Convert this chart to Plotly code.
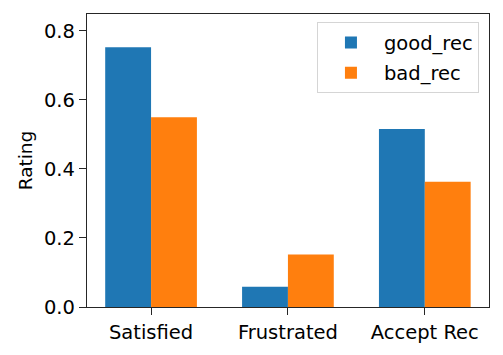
import plotly.graph_objects as go

# data
categories = ['Satisfied', 'Frustrated', 'Accept Rec']
good_rec = [0.753, 0.059, 0.516]
bad_rec = [0.550, 0.152, 0.363]
y_ticks = [0.0, 0.2, 0.4, 0.6, 0.8]

font = 'DejaVu Sans'
ink = '#262626'


def get_bar_chart():
    fig = go.Figure()
    fig.add_trace(go.Bar(x=categories, y=good_rec, name='good_rec', legendgroup='a',
                         marker_color='#1f77b4', marker_line_width=0))
    fig.add_trace(go.Bar(x=categories, y=bad_rec, name='bad_rec', legendgroup='b',
                         marker_color='#ff7f0e', marker_line_width=0))

    # the page body adds an 8px margin, so the figure is sized to fit inside it
    fig.update_layout(
        width=487, height=339,
        margin=dict(l=79, r=6, t=6, b=40),
        paper_bgcolor='white', plot_bgcolor='white',
        barmode='group', bargap=0.33, bargroupgap=0,
        font=dict(family=font, size=19.5, color='black'),
        legend=dict(
            x=0.975, y=0.972, xanchor='right', yanchor='top',
            bgcolor='rgba(255,255,255,0.8)', bordercolor='#d5d5d5', borderwidth=1,
            font=dict(size=19.5), itemwidth=56, tracegroupgap=2,
        ),
        showlegend=True,
    )
    fig.update_xaxes(
        range=[-0.468, 2.469], showgrid=False, showline=True, linecolor=ink, linewidth=1.3,
        mirror=True, ticks='outside', ticklen=7, tickwidth=1.3, tickcolor=ink, automargin=False,
    )
    fig.update_yaxes(
        range=[0, 0.849], tickvals=y_ticks, tickformat='.1f', showgrid=False, zeroline=False,
        showline=True, linecolor=ink, linewidth=1.3, mirror=True,
        ticks='outside', ticklen=7, tickwidth=1.3, tickcolor=ink, automargin=False,
        title=dict(text='Rating', standoff=6, font=dict(size=18.5)),
    )
    return fig


fig = get_bar_chart()
fig.write_html('out.html')
